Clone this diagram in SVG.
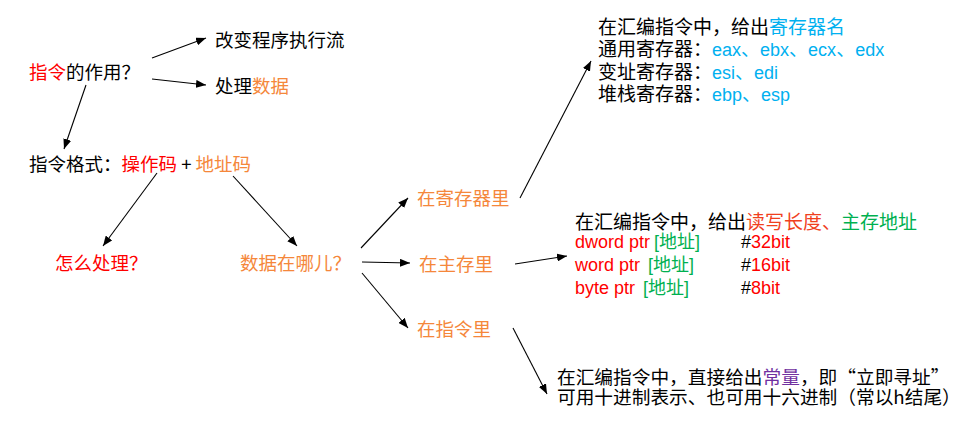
<svg xmlns="http://www.w3.org/2000/svg" width="963" height="422" viewBox="0 0 963 422">
<defs>
<marker id="ah" viewBox="0 0 10 8" refX="10" refY="4" markerWidth="10" markerHeight="8" markerUnits="userSpaceOnUse" orient="auto">
<path d="M0,0 L10,4 L0,8 Z" fill="#000"/>
</marker>
<style>
text{font-family:"Noto Sans CJK SC","Liberation Sans",sans-serif;fill:#000;}
.m{font-size:18.5px;}
.r19{font-size:19px;}
.b18{font-size:18.7px;}
.lat{font-family:"Liberation Sans","Noto Sans CJK SC",sans-serif;font-size:18px;}
.red{fill:#FF0000;}
.org{fill:#F5873B;}
.blu{fill:#00B0F0;}
.grn{fill:#00B050;}
.pur{fill:#7030A0;}
.ored{fill:#F0401E;}
.cn{font-family:"Noto Sans CJK SC",sans-serif;}
#connectors line{stroke:#000;stroke-width:1.1;marker-end:url(#ah);}
</style>
</defs>
<rect width="963" height="422" fill="#fff"/>
<g id="connectors">
<line x1="152" y1="58" x2="206" y2="38"/>
<line x1="152" y1="79" x2="206" y2="85"/>
<line x1="86" y1="85" x2="64" y2="149"/>
<line x1="157" y1="173" x2="103" y2="246"/>
<line x1="233" y1="176" x2="297" y2="246"/>
<line x1="361" y1="248" x2="408" y2="198"/>
<line x1="362" y1="262" x2="410" y2="263"/>
<line x1="362" y1="273" x2="408" y2="328"/>
<line x1="520" y1="198" x2="591" y2="61"/>
<line x1="515" y1="264" x2="567" y2="256"/>
<line x1="513" y1="328" x2="547" y2="394"/>
</g>
<g id="n-role"><text class="m" x="29" y="78.5"><tspan class="red">指令</tspan>的作用？</text></g>
<g id="n-flow"><text class="m" x="215" y="46.5">改变程序执行流</text></g>
<g id="n-data"><text class="m" x="215" y="93">处理<tspan class="org">数据</tspan></text></g>
<g id="n-format"><text class="m" x="29" y="171">指令格式：<tspan class="red">操作码</tspan> + <tspan class="org">地址码</tspan></text></g>
<g id="n-how"><text class="m red" x="55" y="269.5">怎么处理？</text></g>
<g id="n-where"><text class="m org" x="240" y="270">数据在哪儿？</text></g>
<g id="n-reg"><text class="m org" x="417" y="205">在寄存器里</text></g>
<g id="n-mem"><text class="m org" x="419" y="270.5">在主存里</text></g>
<g id="n-ins"><text class="m org" x="417" y="336">在指令里</text></g>
<g id="n-reg-detail">
<text class="r19" x="598" y="33.5">在汇编指令中，给出<tspan class="blu">寄存器名</tspan></text>
<text class="r19" x="598" y="55.5">通用寄存器：<tspan class="blu lat">eax</tspan><tspan class="blu">、</tspan><tspan class="blu lat">ebx</tspan><tspan class="blu">、</tspan><tspan class="blu lat">ecx</tspan><tspan class="blu">、</tspan><tspan class="blu lat">edx</tspan></text>
<text class="r19" x="598" y="78.5">变址寄存器：<tspan class="blu lat">esi</tspan><tspan class="blu">、</tspan><tspan class="blu lat">edi</tspan></text>
<text class="r19" x="598" y="100.5">堆栈寄存器：<tspan class="blu lat">ebp</tspan><tspan class="blu">、</tspan><tspan class="blu lat">esp</tspan></text>
</g>
<g id="n-mem-detail">
<text class="r19" x="575" y="228.5">在汇编指令中，给出<tspan class="ored">读写长度、</tspan><tspan class="grn">主存地址</tspan></text>
<text class="lat red" x="575" y="248">dword ptr</text>
<text class="lat grn" x="654" y="248">[<tspan class="cn">地址</tspan>]</text>
<text class="lat" x="741" y="248">#<tspan class="red">32bit</tspan></text>
<text class="lat red" x="575" y="271">word ptr</text>
<text class="lat grn" x="648" y="271">[<tspan class="cn">地址</tspan>]</text>
<text class="lat" x="741" y="271">#<tspan class="red">16bit</tspan></text>
<text class="lat red" x="575" y="294">byte ptr</text>
<text class="lat grn" x="643" y="294">[<tspan class="cn">地址</tspan>]</text>
<text class="lat" x="741" y="294">#<tspan class="red">8bit</tspan></text>
</g>
<g id="n-ins-detail">
<text class="b18" x="557" y="383.5">在汇编指令中，直接给出<tspan class="pur">常量</tspan>，即“立即寻址”</text>
<text class="b18" x="557" y="404">可用十进制表示、也可用十六进制（常以h结尾）</text>
</g>
</svg>
